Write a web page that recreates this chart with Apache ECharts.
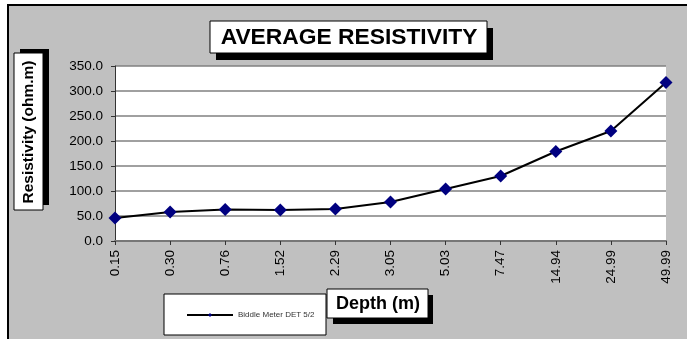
<!DOCTYPE html>
<html>
<head>
<meta charset="utf-8">
<script src="https://cdn.jsdelivr.net/npm/echarts@6/dist/echarts.min.js"></script>
<style>html,body{margin:0;padding:0;background:#fff}#c{width:687px;height:339px}</style>
</head>
<body>
<div id="c"></div>
<script>
var categories = ['0.15','0.30','0.76','1.52','2.29','3.05','5.03','7.47','14.94','24.99','49.99'];
var resistivity = [46, 58, 63, 62, 64, 78, 104, 130, 179, 220, 317];
var seriesName = 'Biddle Meter DET 5/2';
var chartTitle = 'AVERAGE RESISTIVITY';
var yTitle = 'Resistivity (ohm.m)';
var xTitle = 'Depth (m)';

var chart = echarts.init(document.getElementById('c'), null, {renderer: 'canvas'});
var F = 'Arial, "Liberation Sans", sans-serif';
chart.setOption({
  animation: false,
  backgroundColor: '#ffffff',
  graphic: [
    {type: 'rect', z: -10, shape: {x: 8, y: 5, width: 700, height: 360}, style: {fill: '#c0c0c0', stroke: '#000', lineWidth: 2}},
    // title
    {type: 'rect', z: 10, shape: {x: 216, y: 28, width: 277, height: 32}, style: {fill: '#000'}},
    {type: 'rect', z: 11, shape: {x: 210, y: 21, width: 277, height: 32}, style: {fill: '#fff', stroke: '#000', lineWidth: 1}},
    {type: 'text', z: 12, style: {x: 349, y: 37.5, text: chartTitle, align: 'center', verticalAlign: 'middle', font: 'bold 22.8px ' + F, fill: '#000'}},
    // y title
    {type: 'rect', z: 10, shape: {x: 20, y: 49, width: 29, height: 156}, style: {fill: '#000'}},
    {type: 'rect', z: 11, shape: {x: 14, y: 53, width: 29, height: 157}, style: {fill: '#fff', stroke: '#000', lineWidth: 1}},
    {type: 'text', z: 12, x: 29, y: 132, rotation: Math.PI / 2, style: {x: 0, y: 0, text: yTitle, align: 'center', verticalAlign: 'middle', font: 'bold 15.5px ' + F, fill: '#000'}},
    // x title
    {type: 'rect', z: 10, shape: {x: 333, y: 295, width: 100, height: 29}, style: {fill: '#000'}},
    {type: 'rect', z: 11, shape: {x: 327, y: 289, width: 101, height: 29}, style: {fill: '#fff', stroke: '#000', lineWidth: 1}},
    {type: 'text', z: 12, style: {x: 378, y: 304, text: xTitle, align: 'center', verticalAlign: 'middle', font: 'bold 18px ' + F, fill: '#000'}},
    // legend box
    {type: 'rect', z: 10, shape: {x: 164, y: 294, width: 162, height: 41}, style: {fill: '#fff', stroke: '#000', lineWidth: 1}}
  ],
  legend: {
    left: 186, top: 311, z: 20, padding: 0,
    itemWidth: 46, itemHeight: 5, itemGap: 4,
    textStyle: {fontFamily: F, fontSize: 8, color: '#333', padding: [0, 0, 0, 0]},
    data: [seriesName]
  },
  grid: {left: 115, top: 66, right: 21, bottom: 98, show: true, backgroundColor: '#fff', borderWidth: 0, containLabel: false},
  xAxis: {
    type: 'category', data: categories, boundaryGap: false,
    axisLine: {lineStyle: {color: '#777', width: 2}},
    axisTick: {show: true, length: 4, lineStyle: {color: '#333'}, alignWithLabel: true},
    axisLabel: {rotate: 90, margin: 9, fontFamily: F, fontSize: 13.5, color: '#000'},
    splitLine: {show: false}
  },
  yAxis: {
    type: 'value', min: 0, max: 350, interval: 50,
    axisLine: {show: true, lineStyle: {color: '#333', width: 1}},
    axisTick: {show: true, length: 4, lineStyle: {color: '#333'}},
    axisLabel: {margin: 12, fontFamily: F, fontSize: 13.5, color: '#000', formatter: function (v) { return v.toFixed(1); }},
    splitLine: {show: true, lineStyle: {color: '#808080', width: 1.5}}
  },
  series: [{
    name: seriesName, type: 'line', data: resistivity,
    symbol: 'diamond', symbolSize: 13,
    itemStyle: {color: '#000080'},
    lineStyle: {color: '#000', width: 2},
    z: 5
  }]
});
</script>
</body>
</html>
